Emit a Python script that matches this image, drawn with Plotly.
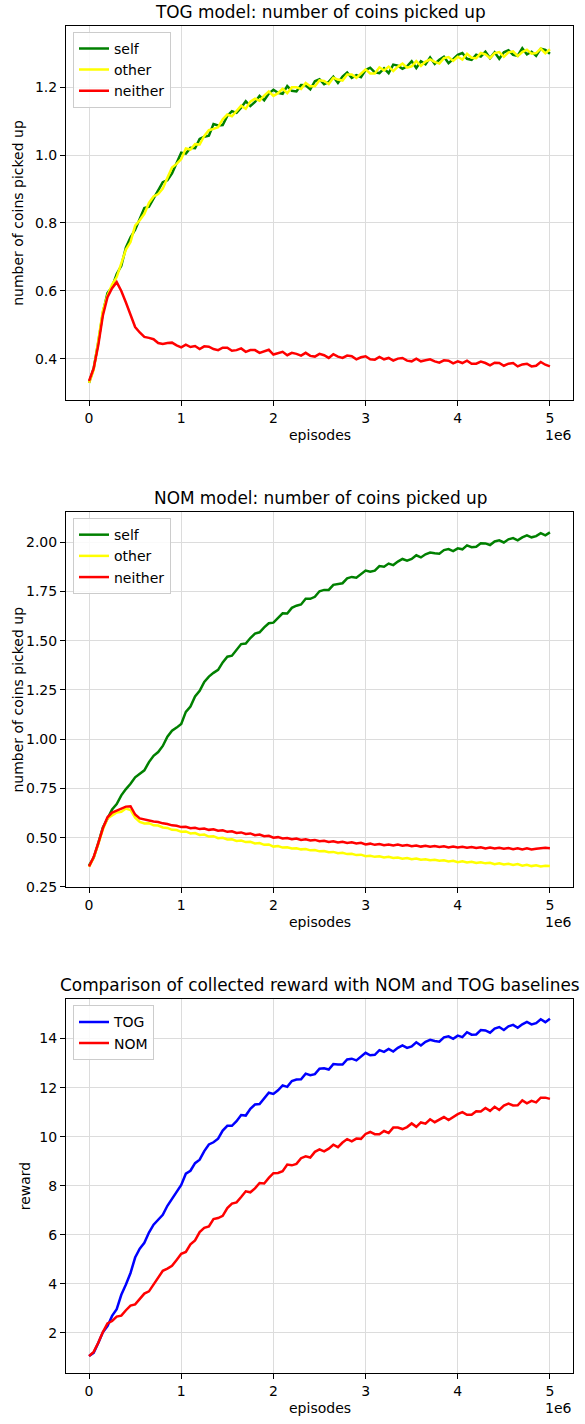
import plotly.graph_objects as go

# ---------------- data ----------------
EPISODES = [i * 50000 for i in range(101)]  # 0 .. 5e6

TOG_SELF = [
    0.330, 0.372, 0.449, 0.537, 0.594, 0.612, 0.650, 0.674, 0.728, 0.758,
    0.780, 0.812, 0.844, 0.848, 0.870, 0.896, 0.920, 0.926, 0.946, 0.978,
    1.007, 1.004, 1.021, 1.020, 1.047, 1.054, 1.057, 1.091, 1.087, 1.088,
    1.115, 1.129, 1.124, 1.139, 1.158, 1.144, 1.156, 1.174, 1.161, 1.181,
    1.192, 1.183, 1.180, 1.203, 1.189, 1.187, 1.206, 1.205, 1.193, 1.217,
    1.223, 1.208, 1.215, 1.230, 1.212, 1.231, 1.243, 1.227, 1.235, 1.229,
    1.250, 1.257, 1.243, 1.241, 1.255, 1.241, 1.266, 1.263, 1.254, 1.261,
    1.276, 1.256, 1.276, 1.267, 1.287, 1.268, 1.280, 1.289, 1.270, 1.282,
    1.295, 1.300, 1.283, 1.280, 1.295, 1.290, 1.304, 1.285, 1.302, 1.283,
    1.302, 1.308, 1.295, 1.292, 1.314, 1.296, 1.304, 1.292, 1.313, 1.309,
    1.298,
]
TOG_OTHER = [
    0.330, 0.368, 0.453, 0.542, 0.587, 0.619, 0.641, 0.685, 0.722, 0.744,
    0.792, 0.808, 0.827, 0.859, 0.878, 0.885, 0.901, 0.933, 0.963, 0.974,
    0.988, 1.019, 1.016, 1.032, 1.031, 1.056, 1.073, 1.077, 1.082, 1.105,
    1.119, 1.114, 1.128, 1.145, 1.136, 1.157, 1.166, 1.160, 1.175, 1.187,
    1.174, 1.182, 1.195, 1.182, 1.199, 1.199, 1.194, 1.212, 1.202, 1.202,
    1.220, 1.218, 1.209, 1.227, 1.222, 1.219, 1.237, 1.237, 1.227, 1.240,
    1.252, 1.240, 1.240, 1.258, 1.249, 1.260, 1.247, 1.260, 1.269, 1.257,
    1.261, 1.276, 1.262, 1.275, 1.281, 1.274, 1.269, 1.285, 1.288, 1.277,
    1.289, 1.281, 1.298, 1.286, 1.285, 1.300, 1.296, 1.285, 1.300, 1.303,
    1.289, 1.302, 1.305, 1.291, 1.303, 1.310, 1.298, 1.300, 1.313, 1.299,
    1.311,
]
TOG_NEITHER = [
    0.335, 0.372, 0.440, 0.528, 0.582, 0.608, 0.626, 0.600, 0.566, 0.530,
    0.494, 0.478, 0.465, 0.462, 0.458, 0.447, 0.444, 0.447, 0.448, 0.440,
    0.434, 0.442, 0.435, 0.438, 0.429, 0.437, 0.436, 0.429, 0.426, 0.433,
    0.433, 0.424, 0.426, 0.431, 0.421, 0.426, 0.426, 0.418, 0.423, 0.427,
    0.413, 0.416, 0.421, 0.411, 0.418, 0.415, 0.410, 0.418, 0.409, 0.407,
    0.415, 0.411, 0.403, 0.414, 0.407, 0.403, 0.410, 0.408, 0.399, 0.405,
    0.408, 0.399, 0.398, 0.406, 0.399, 0.403, 0.395, 0.401, 0.403, 0.395,
    0.393, 0.401, 0.393, 0.396, 0.399, 0.393, 0.389, 0.396, 0.395, 0.387,
    0.393, 0.388, 0.395, 0.386, 0.386, 0.392, 0.388, 0.381, 0.389, 0.388,
    0.380, 0.386, 0.388, 0.378, 0.384, 0.386, 0.378, 0.380, 0.391, 0.383,
    0.378,
]

NOM_SELF = [
    0.360, 0.398, 0.473, 0.552, 0.597, 0.644, 0.671, 0.715, 0.747, 0.774,
    0.807, 0.823, 0.842, 0.884, 0.916, 0.935, 0.966, 1.013, 1.043, 1.059,
    1.078, 1.139, 1.166, 1.217, 1.246, 1.291, 1.318, 1.337, 1.352, 1.390,
    1.419, 1.424, 1.453, 1.483, 1.486, 1.514, 1.536, 1.543, 1.568, 1.589,
    1.592, 1.613, 1.639, 1.638, 1.667, 1.678, 1.684, 1.713, 1.713, 1.723,
    1.751, 1.758, 1.758, 1.784, 1.787, 1.792, 1.817, 1.824, 1.820, 1.839,
    1.856, 1.850, 1.856, 1.879, 1.876, 1.892, 1.884, 1.902, 1.915, 1.907,
    1.915, 1.934, 1.923, 1.939, 1.948, 1.944, 1.942, 1.960, 1.965, 1.955,
    1.969, 1.964, 1.984, 1.975, 1.977, 1.995, 1.994, 1.986, 2.004, 2.010,
    1.999, 2.015, 2.021, 2.010, 2.025, 2.035, 2.025, 2.031, 2.046, 2.035,
    2.050,
]
NOM_OTHER = [
    0.352, 0.398, 0.468, 0.542, 0.598, 0.612, 0.628, 0.632, 0.648, 0.641,
    0.602, 0.580, 0.572, 0.574, 0.563, 0.562, 0.552, 0.550, 0.540, 0.539,
    0.530, 0.532, 0.522, 0.524, 0.514, 0.516, 0.506, 0.508, 0.498, 0.500,
    0.491, 0.492, 0.484, 0.486, 0.478, 0.479, 0.471, 0.473, 0.464, 0.466,
    0.455, 0.458, 0.450, 0.452, 0.446, 0.447, 0.441, 0.443, 0.436, 0.438,
    0.431, 0.433, 0.426, 0.428, 0.421, 0.424, 0.417, 0.419, 0.412, 0.414,
    0.406, 0.409, 0.403, 0.406, 0.400, 0.403, 0.397, 0.400, 0.394, 0.397,
    0.391, 0.394, 0.388, 0.391, 0.386, 0.388, 0.383, 0.386, 0.380, 0.383,
    0.376, 0.380, 0.374, 0.378, 0.372, 0.376, 0.370, 0.373, 0.366, 0.370,
    0.364, 0.368, 0.362, 0.366, 0.358, 0.363, 0.356, 0.360, 0.354, 0.358,
    0.356,
]
NOM_NEITHER = [
    0.354, 0.402, 0.472, 0.548, 0.604, 0.628, 0.638, 0.648, 0.658, 0.660,
    0.618, 0.598, 0.592, 0.589, 0.582, 0.580, 0.573, 0.570, 0.563, 0.561,
    0.554, 0.556, 0.548, 0.551, 0.544, 0.547, 0.540, 0.543, 0.536, 0.538,
    0.530, 0.533, 0.524, 0.527, 0.519, 0.522, 0.513, 0.516, 0.508, 0.510,
    0.500, 0.503, 0.496, 0.499, 0.492, 0.496, 0.489, 0.492, 0.486, 0.489,
    0.482, 0.485, 0.479, 0.482, 0.476, 0.480, 0.474, 0.477, 0.471, 0.474,
    0.466, 0.470, 0.464, 0.468, 0.462, 0.466, 0.461, 0.465, 0.459, 0.463,
    0.457, 0.461, 0.455, 0.459, 0.454, 0.458, 0.453, 0.457, 0.451, 0.455,
    0.451, 0.454, 0.449, 0.453, 0.448, 0.452, 0.446, 0.450, 0.445, 0.449,
    0.444, 0.448, 0.442, 0.447, 0.441, 0.446, 0.440, 0.444, 0.446, 0.449,
    0.447,
]

REWARD_TOG = [
    1.05, 1.18, 1.58, 2.02, 2.27, 2.69, 2.96, 3.55, 3.97, 4.44,
    5.07, 5.43, 5.67, 6.09, 6.41, 6.60, 6.81, 7.18, 7.48, 7.74,
    8.03, 8.49, 8.61, 8.92, 9.06, 9.41, 9.68, 9.77, 9.92, 10.25,
    10.44, 10.44, 10.63, 10.88, 10.86, 11.14, 11.31, 11.33, 11.58, 11.79,
    11.74, 11.89, 12.09, 12.03, 12.27, 12.33, 12.34, 12.57, 12.51, 12.55,
    12.77, 12.79, 12.74, 12.96, 12.94, 12.94, 13.15, 13.18, 13.11, 13.28,
    13.42, 13.32, 13.34, 13.53, 13.46, 13.58, 13.47, 13.62, 13.72, 13.62,
    13.68, 13.85, 13.72, 13.87, 13.95, 13.90, 13.87, 14.05, 14.09, 13.99,
    14.12, 14.06, 14.26, 14.16, 14.17, 14.35, 14.33, 14.24, 14.41, 14.47,
    14.35, 14.50, 14.56, 14.44, 14.58, 14.68, 14.58, 14.63, 14.79, 14.67,
    14.81,
]
REWARD_NOM = [
    1.05, 1.22, 1.59, 2.03, 2.38, 2.48, 2.66, 2.70, 2.92, 3.11,
    3.16, 3.37, 3.60, 3.69, 3.98, 4.25, 4.53, 4.62, 4.73, 4.97,
    5.22, 5.30, 5.61, 5.77, 6.11, 6.28, 6.34, 6.64, 6.68, 6.77,
    7.09, 7.27, 7.32, 7.54, 7.77, 7.73, 7.89, 8.11, 8.09, 8.32,
    8.51, 8.52, 8.59, 8.86, 8.83, 8.89, 9.12, 9.20, 9.15, 9.38,
    9.48, 9.40, 9.51, 9.67, 9.57, 9.76, 9.90, 9.81, 9.92, 9.91,
    10.11, 10.19, 10.10, 10.10, 10.23, 10.15, 10.37, 10.37, 10.31, 10.39,
    10.54, 10.40, 10.58, 10.53, 10.71, 10.59, 10.71, 10.80, 10.68, 10.80,
    10.92, 11.00, 10.89, 10.89, 11.04, 11.03, 11.17, 11.05, 11.22, 11.09,
    11.27, 11.35, 11.27, 11.28, 11.48, 11.36, 11.46, 11.40, 11.59, 11.59,
    11.54,
]

X_TICKS = [0, 1000000, 2000000, 3000000, 4000000, 5000000]
X_TICK_TEXT = ["0", "1", "2", "3", "4", "5"]
Y1_TICKS = [0.4, 0.6, 0.8, 1.0, 1.2]
Y1_TEXT = ["0.4", "0.6", "0.8", "1.0", "1.2"]
Y2_TICKS = [0.25, 0.5, 0.75, 1.0, 1.25, 1.5, 1.75, 2.0]
Y2_TEXT = ["0.25", "0.50", "0.75", "1.00", "1.25", "1.50", "1.75", "2.00"]
Y3_TICKS = [2, 4, 6, 8, 10, 12, 14]
Y3_TEXT = ["2", "4", "6", "8", "10", "12", "14"]

TITLES = ["TOG model: number of coins picked up",
          "NOM model: number of coins picked up",
          "Comparison of collected reward with NOM and TOG baselines"]

# ---------------- figure ----------------
W, H = 585, 1424
FONT = "DejaVu Sans"

def fx(x):
    return x / W

def fy(y):
    return 1 - y / H

XDOM = [fx(66), fx(573)]
# (top, bottom) pixel rows of each axes frame
FRAMES = [(26, 402), (515, 892), (1005, 1381)]

fig = go.Figure()

def line(x, y, name, color, xa, ya, leg):
    fig.add_trace(go.Scatter(x=x, y=y, name=name, mode="lines",
                             line=dict(color=color, width=2.5),
                             xaxis=xa, yaxis=ya, legend=leg))

line(EPISODES, TOG_SELF, "self", "green", "x", "y", "legend")
line(EPISODES, TOG_OTHER, "other", "yellow", "x", "y", "legend")
line(EPISODES, TOG_NEITHER, "neither", "red", "x", "y", "legend")
line(EPISODES, NOM_SELF, "self", "green", "x2", "y2", "legend2")
line(EPISODES, NOM_OTHER, "other", "yellow", "x2", "y2", "legend2")
line(EPISODES, NOM_NEITHER, "neither", "red", "x2", "y2", "legend2")
line(EPISODES, REWARD_TOG, "TOG", "blue", "x3", "y3", "legend3")
line(EPISODES, REWARD_NOM, "NOM", "red", "x3", "y3", "legend3")

axis_common = dict(showline=True, linecolor="black", linewidth=1, mirror=True,
                   ticks="outside", ticklen=5, tickcolor="black",
                   showgrid=True, gridcolor="#dcdcdc", gridwidth=1,
                   zeroline=False, tickfont=dict(family=FONT, size=14, color="black"))

yranges = [[0.28, 1.38], [0.25, 2.153], [0.35, 15.6]]
yticks = [(Y1_TICKS, Y1_TEXT), (Y2_TICKS, Y2_TEXT), (Y3_TICKS, Y3_TEXT)]
layout = {}
for i, (top, bot) in enumerate(FRAMES):
    sfx = "" if i == 0 else str(i + 1)
    layout["xaxis" + sfx] = dict(axis_common, domain=XDOM, range=[-250000, 5250000],
                                 tickvals=X_TICKS, ticktext=X_TICK_TEXT,
                                 anchor="y" + sfx)
    layout["yaxis" + sfx] = dict(axis_common, domain=[fy(bot), fy(top)],
                                 range=yranges[i], tickvals=yticks[i][0],
                                 ticktext=yticks[i][1], anchor="x" + sfx)
    layout["legend" + sfx] = dict(x=fx(73), y=fy(top + 6), xanchor="left", yanchor="top",
                                  bgcolor="rgba(255,255,255,0.85)", bordercolor="#cccccc",
                                  borderwidth=1, font=dict(family=FONT, size=14, color="black"),
                                  tracegroupgap=0)

annotations = []
for i, (top, bot) in enumerate(FRAMES):
    annotations.append(dict(text=TITLES[i], x=fx(320), y=fy(top - 14), xref="paper", yref="paper",
                            showarrow=False, xanchor="center", yanchor="middle",
                            font=dict(family=FONT, size=16.9, color="black")))
    annotations.append(dict(text="episodes", x=fx(320), y=fy(bot + 35), xref="paper", yref="paper",
                            showarrow=False, xanchor="center", yanchor="middle",
                            font=dict(family=FONT, size=14, color="black")))
    annotations.append(dict(text="1e6", x=fx(574), y=fy(bot + 35), xref="paper", yref="paper",
                            showarrow=False, xanchor="right", yanchor="middle",
                            font=dict(family=FONT, size=14, color="black")))
    ytitle = "reward" if i == 2 else "number of coins picked up"
    annotations.append(dict(text=ytitle, x=fx(25 if i == 2 else 18), y=fy((top + bot) / 2),
                            xref="paper", yref="paper", showarrow=False, textangle=-90,
                            xanchor="center", yanchor="middle",
                            font=dict(family=FONT, size=14, color="black")))

fig.update_layout(width=W, height=H, margin=dict(l=0, r=0, t=0, b=0),
                  paper_bgcolor="white", plot_bgcolor="white",
                  showlegend=True, annotations=annotations, **layout)

fig.write_html("out.html", config={"displayModeBar": False},
               post_script="document.body.style.margin='0';")
